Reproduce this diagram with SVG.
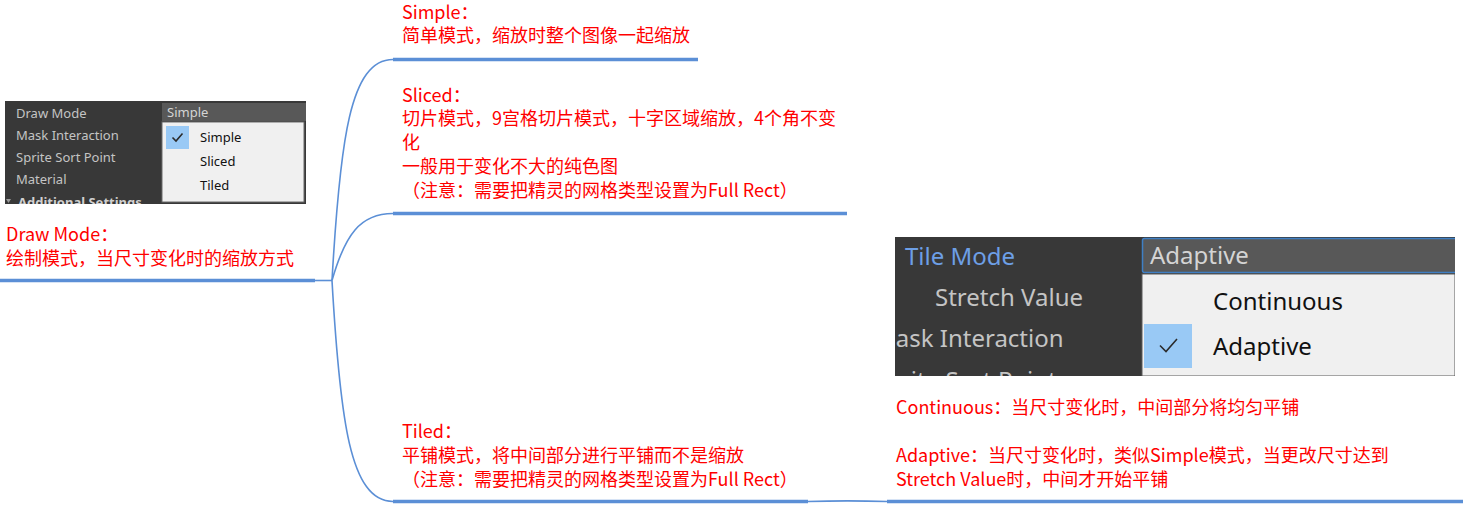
<svg xmlns="http://www.w3.org/2000/svg" width="1475" height="508" viewBox="0 0 1475 508">
<style>
  .note { font-family: "Noto Sans CJK SC", "Noto Sans", sans-serif; font-size: 18px; fill: #ff0000; }
  .ul { stroke: #5b8fd6; stroke-width: 3.5; fill: none; }
  .conn { stroke: #5b8fd6; stroke-width: 1.6; fill: none; }
  .ui { font-family: "Noto Sans", "Liberation Sans", sans-serif; }
  .lbl { fill: #c4c4c4; }
  .item { fill: #111111; }
  .hdr { fill: #d4d4d4; }
  .chk { stroke: #2b2b2b; stroke-width: 1.6; fill: none; }
</style>
<defs>
  <clipPath id="clipL"><rect x="5" y="101" width="301" height="103"/></clipPath>
  <clipPath id="clipR"><rect x="895" y="237" width="560" height="139"/></clipPath>
</defs>
<rect width="1475" height="508" fill="#ffffff"/>

<g id="screenshot-draw-mode" clip-path="url(#clipL)">
  <rect x="5" y="101" width="301" height="103" fill="#383838"/>
  <g class="ui lbl" font-size="13">
    <text x="16" y="118">Draw Mode</text>
    <text x="16" y="140">Mask Interaction</text>
    <text x="16" y="162">Sprite Sort Point</text>
    <text x="16" y="184">Material</text>
    <text x="18" y="207" font-weight="bold" fill="#d0d0d0">Additional Settings</text>
  </g>
  <polygon points="6,199 11,199 8.5,203" fill="#9a9a9a"/>
  <rect x="162" y="103" width="144" height="18" fill="#585858"/>
  <text class="ui hdr" x="167" y="117" font-size="13">Simple</text>
  <rect x="162" y="122" width="142" height="80" fill="#f0f0f0" stroke="#6a6a6a" stroke-width="1"/>
  <rect x="166" y="126" width="23" height="23" fill="#99c9f5"/>
  <polyline class="chk" points="172.5,137.5 176,141 182.5,133.5"/>
  <g class="ui item" font-size="13">
    <text x="200" y="142">Simple</text>
    <text x="200" y="166">Sliced</text>
    <text x="200" y="190">Tiled</text>
  </g>
</g>

<g id="node-root">
  <text class="note" x="6" y="241">Draw Mode：</text>
  <text class="note" x="6" y="265">绘制模式，当尺寸变化时的缩放方式</text>
  <line class="ul" x1="0" y1="280.5" x2="315" y2="280.5"/>
</g>

<g id="node-simple">
  <text class="note" x="402" y="19">Simple：</text>
  <text class="note" x="402" y="42">简单模式，缩放时整个图像一起缩放</text>
  <line class="ul" x1="393" y1="59.5" x2="698" y2="59.5"/>
</g>

<g id="node-sliced">
  <text class="note" x="402" y="102">Sliced：</text>
  <text class="note" x="402" y="125">切片模式，9宫格切片模式，十字区域缩放，4个角不变</text>
  <text class="note" x="402" y="149">化</text>
  <text class="note" x="402" y="173">一般用于变化不大的纯色图</text>
  <text class="note" x="402" y="197">（注意：需要把精灵的网格类型设置为Full Rect）</text>
  <line class="ul" x1="393" y1="213.5" x2="847" y2="213.5"/>
</g>

<g id="node-tiled">
  <text class="note" x="402" y="438">Tiled：</text>
  <text class="note" x="402" y="462">平铺模式，将中间部分进行平铺而不是缩放</text>
  <text class="note" x="402" y="486">（注意：需要把精灵的网格类型设置为Full Rect）</text>
  <line class="ul" x1="393" y1="501.5" x2="808" y2="501.5"/>
</g>

<g id="screenshot-tile-mode" clip-path="url(#clipR)">
  <rect x="895" y="237" width="560" height="139" fill="#383838"/>
  <g class="ui" font-size="24">
    <text x="905" y="265" fill="#6d9fe6">Tile Mode</text>
    <text class="lbl" x="935" y="306">Stretch Value</text>
    <text class="lbl" x="874" y="347">Mask Interaction</text>
    <text class="lbl" x="873" y="389">Sprite Sort Point</text>
  </g>
  <rect x="1142.5" y="238.5" width="320" height="34" rx="2" fill="#585858" stroke="#3f7fc4" stroke-width="1.5"/>
  <text class="ui hdr" x="1150" y="264" font-size="24">Adaptive</text>
  <rect x="1142" y="274" width="313" height="102" fill="#f0f0f0" stroke="#5a5a5a" stroke-width="1"/>
  <rect x="1144" y="324" width="48" height="44" fill="#99c9f5"/>
  <polyline class="chk" points="1160,345.5 1166,351.5 1177,339"/>
  <g class="ui item" font-size="24">
    <text x="1213" y="310">Continuous</text>
    <text x="1213" y="355">Adaptive</text>
  </g>
</g>

<g id="node-tile-mode">
  <text class="note" x="896" y="414">Continuous：当尺寸变化时，中间部分将均匀平铺</text>
  <text class="note" x="896" y="462">Adaptive：当尺寸变化时，类似Simple模式，当更改尺寸达到</text>
  <text class="note" x="896" y="486">Stretch Value时，中间才开始平铺</text>
  <line class="ul" x1="887" y1="501.5" x2="1463" y2="501.5"/>
</g>

<g id="connectors">
  <line class="conn" x1="315" y1="280.5" x2="332" y2="280.5"/>
  <path class="conn" d="M332,280.5 C340,140 350,59.5 393,59.5"/>
  <path class="conn" d="M332,280.5 C345,235 360,213.5 393,213.5"/>
  <path class="conn" d="M332,280.5 C340,420 350,501.5 393,501.5"/>
  <path class="conn" d="M808,501.5 C840,500.5 855,500.5 887,501.5"/>
</g>
</svg>
